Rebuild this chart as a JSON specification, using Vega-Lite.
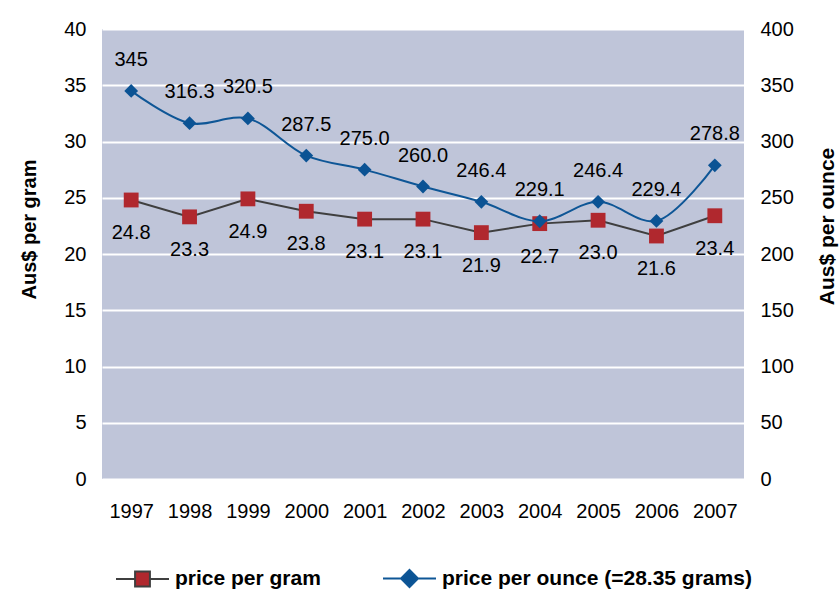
{
  "$schema": "https://vega.github.io/schema/vega-lite/v6.json",
  "width": 642,
  "height": 450,
  "autosize": {"type": "none"},
  "padding": {"left": 102, "top": 29, "right": 95, "bottom": 111},
  "background": "white",
  "config": {
    "font": "Liberation Sans",
    "view": {"fill": "#BFC5D9", "stroke": null},
    "axis": {
      "labelFont": "Liberation Sans",
      "labelFontSize": 20,
      "labelColor": "#000000",
      "domain": false,
      "ticks": false,
      "titleFont": "Liberation Sans",
      "titleFontWeight": "bold",
      "titleColor": "#000000"
    },
    "legend": {
      "orient": "none",
      "legendX": 13,
      "legendY": 522,
      "direction": "horizontal",
      "padding": 0,
      "labelFont": "Liberation Sans",
      "labelFontSize": 21,
      "labelFontWeight": "bold",
      "labelColor": "#000000",
      "labelLimit": 0,
      "symbolSize": 2809,
      "symbolStrokeWidth": 2,
      "symbolOpacity": 1,
      "columnPadding": 58,
      "labelOffset": 5
    }
  },
  "data": {
    "values": [
      {"year": "1997", "gram": 24.8, "ounce": 345.0, "ounceText": "345"},
      {"year": "1998", "gram": 23.3, "ounce": 316.3, "ounceText": "316.3"},
      {"year": "1999", "gram": 24.9, "ounce": 320.5, "ounceText": "320.5"},
      {"year": "2000", "gram": 23.8, "ounce": 287.5, "ounceText": "287.5"},
      {"year": "2001", "gram": 23.1, "ounce": 275.0, "ounceText": "275.0"},
      {"year": "2002", "gram": 23.1, "ounce": 260.0, "ounceText": "260.0"},
      {"year": "2003", "gram": 21.9, "ounce": 246.4, "ounceText": "246.4"},
      {"year": "2004", "gram": 22.7, "ounce": 229.1, "ounceText": "229.1"},
      {"year": "2005", "gram": 23.0, "ounce": 246.4, "ounceText": "246.4"},
      {"year": "2006", "gram": 21.6, "ounce": 229.4, "ounceText": "229.4"},
      {"year": "2007", "gram": 23.4, "ounce": 278.8, "ounceText": "278.8"}
    ]
  },
  "encoding": {
    "x": {
      "field": "year",
      "type": "ordinal",
      "scale": {"type": "point", "padding": 0.5},
      "axis": {"labelAngle": 0, "title": null, "labelPadding": 22, "grid": false}
    }
  },
  "layer": [
    {
      "encoding": {
        "y": {
          "field": "gram",
          "type": "quantitative",
          "scale": {"domain": [0, 40], "nice": false, "zero": true},
          "axis": {
            "orient": "left",
            "values": [0, 5, 10, 15, 20, 25, 30, 35, 40],
            "title": "Aus$ per gram",
            "titleFontSize": 20,
            "titlePadding": 24,
            "titleY": 200,
            "labelPadding": 16,
            "grid": true,
            "gridColor": "#FFFFFF",
            "gridWidth": 2,
            "gridOpacity": 1
          }
        }
      },
      "layer": [
        {"mark": {"type": "line", "color": "#3F3F3F", "strokeWidth": 2}},
        {"mark": {"type": "point", "shape": "square", "filled": true, "size": 220, "color": "#B0282E", "opacity": 1}},
        {
          "mark": {"type": "text", "fontSize": 20, "dy": 33, "color": "#000000", "baseline": "middle"},
          "encoding": {"text": {"field": "gram", "type": "quantitative", "format": ".1f"}}
        }
      ]
    },
    {
      "encoding": {
        "y": {
          "field": "ounce",
          "type": "quantitative",
          "scale": {"domain": [0, 400], "nice": false, "zero": true},
          "axis": {
            "orient": "right",
            "values": [0, 50, 100, 150, 200, 250, 300, 350, 400],
            "title": "Aus$ per ounce",
            "titleFontSize": 21,
            "titleAngle": -90,
            "titlePadding": 44,
            "titleY": 197,
            "labelPadding": 16,
            "grid": false
          }
        }
      },
      "layer": [
        {"mark": {"type": "line", "color": "#0E5696", "strokeWidth": 2, "interpolate": "catmull-rom"}},
        {"mark": {"type": "point", "shape": "diamond", "filled": true, "size": 190, "color": "#0B5394", "opacity": 1}},
        {
          "mark": {"type": "text", "fontSize": 20, "dy": -31, "color": "#000000", "baseline": "middle"},
          "encoding": {"text": {"field": "ounceText", "type": "nominal"}}
        },
        {
          "transform": [{"fold": ["gram", "ounce"], "as": ["series", "val"]}],
          "mark": {"type": "point", "filled": true, "opacity": 0, "strokeWidth": 2},
          "encoding": {
            "fill": {
              "field": "series",
              "type": "nominal",
              "scale": {"domain": ["gram", "ounce"], "range": ["#B0282E", "#0B5394"]},
              "legend": {
                "title": null,
                "labelExpr": "datum.label == 'gram' ? 'price per gram' : 'price per ounce (=28.35 grams)'"
              }
            },
            "stroke": {
              "field": "series",
              "type": "nominal",
              "scale": {"domain": ["gram", "ounce"], "range": ["#3F3F3F", "#0E5696"]},
              "legend": {
                "title": null,
                "labelExpr": "datum.label == 'gram' ? 'price per gram' : 'price per ounce (=28.35 grams)'"
              }
            },
            "shape": {
              "field": "series",
              "type": "nominal",
              "scale": {
                "domain": ["gram", "ounce"],
                "range": [
                  "M-1,0H-0.28M0.28,0H1M-0.28,-0.28H0.28V0.28H-0.28Z",
                  "M-1,0H-0.32M0.32,0H1M0,-0.32L0.32,0L0,0.32L-0.32,0Z"
                ]
              },
              "legend": {
                "title": null,
                "labelExpr": "datum.label == 'gram' ? 'price per gram' : 'price per ounce (=28.35 grams)'"
              }
            }
          }
        }
      ]
    }
  ],
  "resolve": {"scale": {"y": "independent"}}
}
